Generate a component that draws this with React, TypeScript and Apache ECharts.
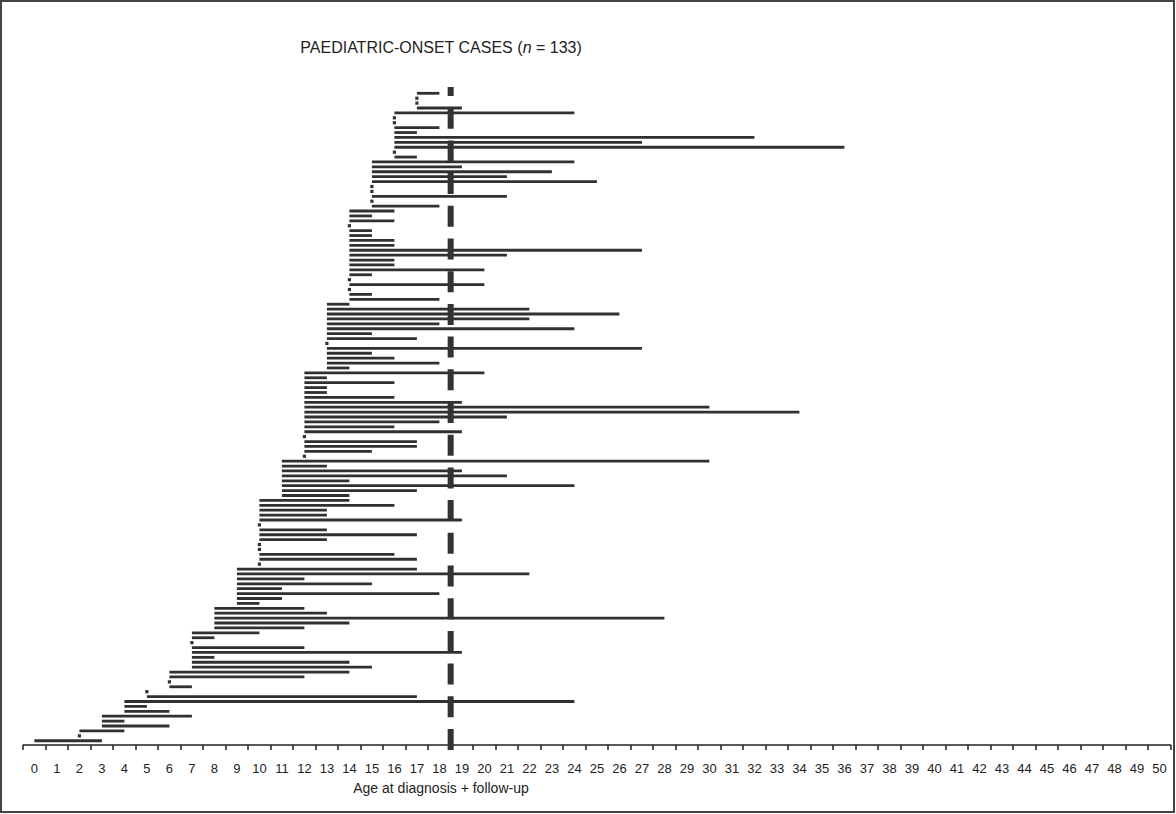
import React, { useEffect, useRef } from "react";
import * as echarts from "echarts";

// Tick labels of the age axis (years)
const ageLabels = [
  "0", "1", "2", "3", "4", "5", "6", "7", "8", "9", "10",
  "11", "12", "13", "14", "15", "16", "17", "18", "19", "20",
  "21", "22", "23", "24", "25", "26", "27", "28", "29", "30",
  "31", "32", "33", "34", "35", "36", "37", "38", "39", "40",
  "41", "42", "43", "44", "45", "46", "47", "48", "49", "50",
];

// Each case, top row first: age at diagnosis and age at last follow-up
const diagnosisAge = [
  17, 17, 17, 17, 16, 16, 16, 16, 16, 16, 16, 16, 16, 16,
  15, 15, 15, 15, 15, 15, 15, 15, 15, 15,
  14, 14, 14, 14, 14, 14, 14, 14, 14, 14, 14, 14, 14, 14, 14, 14, 14, 14, 14,
  13, 13, 13, 13, 13, 13, 13, 13, 13, 13, 13, 13, 13, 13,
  12, 12, 12, 12, 12, 12, 12, 12, 12, 12, 12, 12, 12, 12, 12, 12, 12, 12,
  11, 11, 11, 11, 11, 11, 11, 11,
  10, 10, 10, 10, 10, 10, 10, 10, 10, 10, 10, 10, 10, 10,
  9, 9, 9, 9, 9, 9, 9, 9,
  8, 8, 8, 8, 8,
  7, 7, 7, 7, 7, 7, 7, 7,
  6, 6, 6, 6,
  5, 5,
  4, 4, 4,
  3, 3, 3,
  2, 2,
  0,
];
const followUpAge = [
  18, 17, 17, 19, 24, 16, 16, 18, 17, 32, 27, 36, 16, 17,
  24, 19, 23, 21, 25, 15, 15, 21, 15, 18,
  16, 15, 16, 14, 15, 15, 16, 16, 27, 21, 16, 16, 20, 15, 14, 20, 14, 15, 18,
  14, 22, 26, 22, 18, 24, 15, 17, 13, 27, 15, 16, 18, 14,
  20, 13, 16, 13, 13, 16, 19, 30, 34, 21, 18, 16, 19, 12, 17, 17, 15, 12,
  30, 13, 19, 21, 14, 24, 17, 14,
  14, 16, 13, 13, 19, 10, 13, 17, 13, 10, 10, 16, 17, 10,
  17, 22, 12, 15, 11, 18, 11, 10,
  12, 13, 28, 14, 12,
  10, 8, 7, 12, 19, 8, 14, 15,
  14, 12, 6, 7,
  5, 17,
  24, 5, 6,
  7, 4, 6,
  4, 2,
  3,
];

const transitionAge = 18.5;

const FONT = "'Liberation Sans', Arial, Helvetica, sans-serif";
const INK = "#303030";

export default function App() {
  const ref = useRef<HTMLDivElement>(null);

  useEffect(() => {
    if (!ref.current) return;
    const chart = echarts.init(ref.current, null, { renderer: "svg" });

    const rows = diagnosisAge.map((d, i) => [d, followUpAge[i], i]);

    const option: any = {
      animation: false,
      backgroundColor: "#ffffff",
      grid: { left: 23.15, right: 5.35, top: 87, bottom: 69, containLabel: false },
      xAxis: [
        {
          type: "category",
          position: "bottom",
          data: ageLabels,
          boundaryGap: true,
          axisLine: { show: true, onZero: false, lineStyle: { color: "#222", width: 1.6 } },
          axisTick: { show: true, length: 5, inside: false, lineStyle: { color: "#222", width: 1.5 } },
          axisLabel: { interval: 0, fontSize: 13, color: "#222", margin: 17, fontFamily: FONT },
          splitLine: { show: false },
        },
        { type: "value", position: "bottom", min: -0.5, max: 50.5, show: false },
      ],
      yAxis: { type: "value", inverse: true, min: -1.284, max: 132.87, show: false },
      graphic: [
        {
          type: "rect",
          shape: { x: 1, y: 1, width: 1173, height: 811 },
          style: { fill: "none", stroke: "#444", lineWidth: 2 },
          silent: true,
          z: 100,
        },
        {
          type: "text",
          x: 441,
          y: 47,
          style: {
            text: "{a|PAEDIATRIC-ONSET CASES (}{i|n}{a| = 133)}",
            align: "center",
            verticalAlign: "middle",
            rich: {
              a: { fontSize: 16, fontFamily: FONT, fill: "#222" },
              i: { fontSize: 16, fontFamily: FONT, fontStyle: "italic", fill: "#222" },
            },
          },
        },
        {
          type: "text",
          x: 441,
          y: 788,
          style: {
            text: "Age at diagnosis + follow-up",
            align: "center",
            verticalAlign: "middle",
            fontSize: 14,
            fontFamily: FONT,
            fill: "#222",
          },
        },
      ],
      series: [
        {
          type: "custom",
          xAxisIndex: 1,
          yAxisIndex: 0,
          data: rows,
          encode: { x: [0, 1], y: 2 },
          renderItem: (params: any, api: any) => {
            const s = api.coord([api.value(0), api.value(2)]);
            const e = api.coord([api.value(1), api.value(2)]);
            if (api.value(1) <= api.value(0)) {
              return {
                type: "rect",
                shape: { x: s[0] - 1.6, y: s[1] - 1.6, width: 3.2, height: 3.2 },
                style: { fill: INK },
              };
            }
            return {
              type: "rect",
              shape: { x: s[0], y: s[1] - 1.4, width: e[0] - s[0], height: 2.8 },
              style: { fill: INK },
            };
          },
        },
        {
          type: "custom",
          xAxisIndex: 1,
          yAxisIndex: 0,
          data: [[transitionAge, 0]],
          encode: { x: 0, y: 1 },
          z: 5,
          renderItem: (params: any, api: any) => {
            const cs = params.coordSys;
            const x = api.coord([api.value(0), 0])[0];
            return {
              type: "line",
              shape: { x1: x, y1: cs.y + cs.height + 5, x2: x, y2: cs.y },
              style: { stroke: "#333", lineWidth: 6, lineDash: [21, 11.7] },
            };
          },
        },
      ],
    };

    chart.setOption(option);
    return () => chart.dispose();
  }, []);

  return (
    <div
      ref={ref}
      style={{ position: "absolute", left: 0, top: 0, width: 1176, height: 814 }}
    />
  );
}
